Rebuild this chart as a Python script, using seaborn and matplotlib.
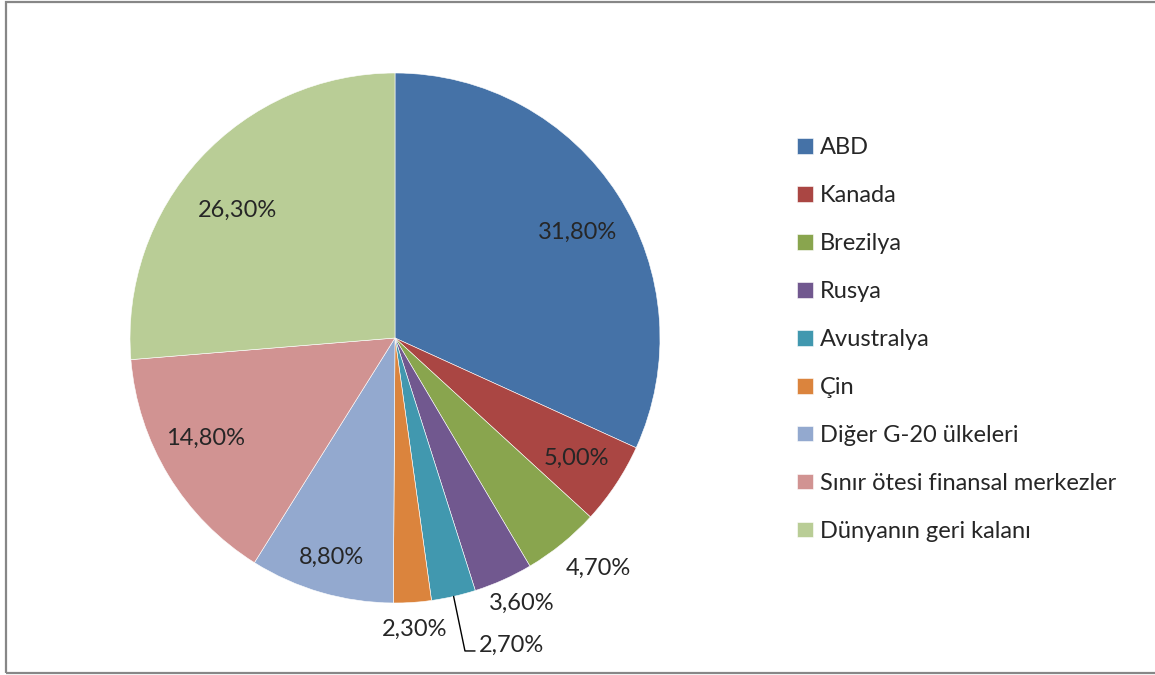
import numpy as np
import seaborn as sns
import matplotlib.pyplot as plt
from matplotlib.patches import Rectangle

# shares of the total, clockwise from 12 o'clock
labels = ['ABD', 'Kanada', 'Brezilya', 'Rusya', 'Avustralya', 'Çin',
          'Diğer G-20 ülkeleri', 'Sınır ötesi finansal merkezler',
          'Dünyanın geri kalanı']
values = [31.8, 5.0, 4.7, 3.6, 2.7, 2.3, 8.8, 14.8, 26.3]
pct_text = ['31,80%', '5,00%', '4,70%', '3,60%', '2,70%', '2,30%',
            '8,80%', '14,80%', '26,30%']
hex_colors = ['#4572A7', '#AA4643', '#89A54E', '#71588F', '#4198AF',
              '#DB843D', '#93A9CF', '#D19392', '#B9CD96']

sns.set_style('white')
plt.rcParams['font.family'] = ['Lato', 'DejaVu Sans']
colors = sns.color_palette(hex_colors)
FS = 17

fig = plt.figure(figsize=(11.55, 6.75), dpi=100)
# pie axes: centre at (395, 338) px, radius 265 px
lim = 1.26
half = lim * 265
ax = fig.add_axes([(395 - half) / 1155, (675 - 338 - half) / 675,
                   2 * half / 1155, 2 * half / 675])
wedges, _ = ax.pie(values, colors=colors, startangle=90, counterclock=False,
                   radius=1.0, wedgeprops=dict(edgecolor='white', linewidth=0.4))
ax.set_xlim(-lim, lim)
ax.set_ylim(-lim, lim)
ax.set_aspect('equal')
ax.axis('off')

# label distance from centre (fraction of radius) and small angle nudges (deg)
label_r = [0.795, 0.82, 1.16, 1.11, 1.18, 1.10, 0.86, 0.81, 0.765]
label_nudge = [2.8, 0, -2.3, -1.5, 0, 0, 0, 3.5, -3.5]
cum = np.cumsum([0] + values[:-1])
for i, txt in enumerate(pct_text):
    mid_deg = (cum[i] + values[i] / 2) / 100 * 360
    mid = np.deg2rad(mid_deg + label_nudge[i])
    x, y = np.sin(mid), np.cos(mid)
    if txt == '2,70%':
        # leader line from the slice edge down to the label
        m = np.deg2rad(mid_deg)
        ax.plot([np.sin(m), 0.264, 0.302], [np.cos(m), -1.181, -1.181],
                color='black', lw=1, clip_on=False)
        ax.text(0.315, -1.16, txt, ha='left', va='center', fontsize=FS)
    else:
        ax.text(x * label_r[i], y * label_r[i], txt, ha='center', va='center',
                fontsize=FS)

fig.legend(wedges, labels, loc='upper left', bbox_to_anchor=(788 / 1155, 1 - 128 / 675),
           frameon=False, fontsize=FS, handlelength=0.64, handleheight=0.64,
           handletextpad=0.3, labelspacing=1.14, borderaxespad=0)

fig.add_artist(Rectangle((6 / 1155, 2 / 675), 1.2, 671 / 675,
                         transform=fig.transFigure, fill=False,
                         edgecolor='#878787', linewidth=1.6))

fig.savefig('out.png', dpi=100)
